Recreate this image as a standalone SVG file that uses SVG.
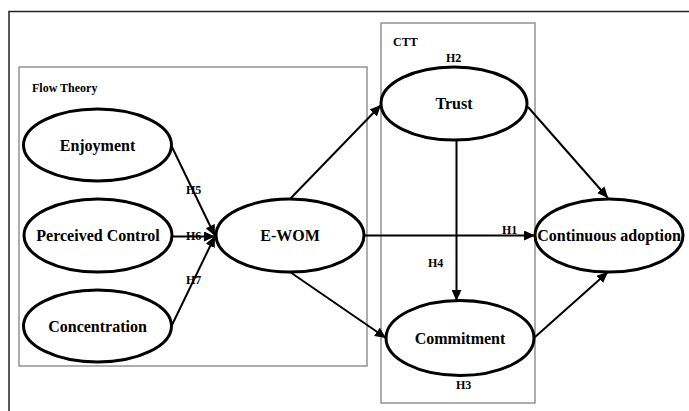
<svg xmlns="http://www.w3.org/2000/svg" width="689" height="411" viewBox="0 0 689 411">
<defs>
<marker id="arr" markerUnits="userSpaceOnUse" markerWidth="12" markerHeight="10" refX="11" refY="5" orient="auto">
<path d="M0,0 L11,5 L0,10 Z" fill="#000"/>
</marker>
<style>
.frame{fill:none;stroke:#222;stroke-width:1.5}
.box{fill:none;stroke:#777;stroke-width:1.2}
.node{fill:#fff;stroke:#000;stroke-width:3}
.lbl{font-family:"Liberation Serif","Times New Roman",serif;font-weight:bold;font-size:16px;text-anchor:middle;fill:#000}
.sm{font-family:"Liberation Serif","Times New Roman",serif;font-weight:bold;font-size:12px;fill:#000}
.ln{fill:none;stroke:#000;stroke-width:2;marker-end:url(#arr)}
</style>
</defs>
<rect width="689" height="411" fill="#fff"/>
<path class="frame" d="M9,411 V11.5 H689"/>
<g id="flow-theory">
<rect class="box" x="19" y="67" width="348" height="299"/>
<text class="sm" x="32" y="92">Flow Theory</text>
</g>
<g id="ctt">
<rect class="box" x="381" y="23" width="154" height="380"/>
<text class="sm" x="393" y="46">CTT</text>
</g>
<g id="connectors">
<line class="ln" x1="172" y1="147" x2="215" y2="236"/>
<line class="ln" x1="172" y1="236.5" x2="215" y2="236.5"/>
<line class="ln" x1="172" y1="325" x2="215" y2="236"/>
<line class="ln" x1="290" y1="199" x2="381" y2="105"/>
<line class="ln" x1="290" y1="272" x2="386" y2="338"/>
<line class="ln" x1="364" y1="235.5" x2="535" y2="235.5"/>
<line class="ln" x1="456.5" y1="140" x2="456.5" y2="301"/>
<line class="ln" x1="528" y1="107" x2="608" y2="198"/>
<line class="ln" x1="535" y1="337" x2="608" y2="272"/>
<text class="sm" x="186" y="194">H5</text>
<text class="sm" x="186" y="240">H6</text>
<text class="sm" x="186" y="284">H7</text>
<text class="sm" x="446" y="62">H2</text>
<text class="sm" x="502" y="234">H1</text>
<text class="sm" x="428" y="267">H4</text>
<text class="sm" x="456" y="389">H3</text>
</g>
<g id="enjoyment">
<ellipse class="node" cx="97.5" cy="145" rx="74" ry="36"/>
<text class="lbl" x="97.5" y="150.5">Enjoyment</text>
</g>
<g id="perceived-control">
<ellipse class="node" cx="98" cy="235.5" rx="74" ry="36.5"/>
<text class="lbl" x="98" y="241">Perceived Control</text>
</g>
<g id="concentration">
<ellipse class="node" cx="97.5" cy="326" rx="74" ry="36"/>
<text class="lbl" x="97.5" y="331.5">Concentration</text>
</g>
<g id="ewom">
<ellipse class="node" cx="290" cy="235.5" rx="74" ry="36.5"/>
<text class="lbl" x="290" y="241">E-WOM</text>
</g>
<g id="trust">
<ellipse class="node" cx="454" cy="103.5" rx="73" ry="36.5"/>
<text class="lbl" x="454" y="109">Trust</text>
</g>
<g id="commitment">
<ellipse class="node" cx="460" cy="338" rx="74" ry="37.5"/>
<text class="lbl" x="460" y="343.5">Commitment</text>
</g>
<g id="continuous-adoption">
<ellipse class="node" cx="609" cy="235.5" rx="74" ry="36.5"/>
<text class="lbl" x="609" y="241">Continuous adoption</text>
</g>
</svg>
